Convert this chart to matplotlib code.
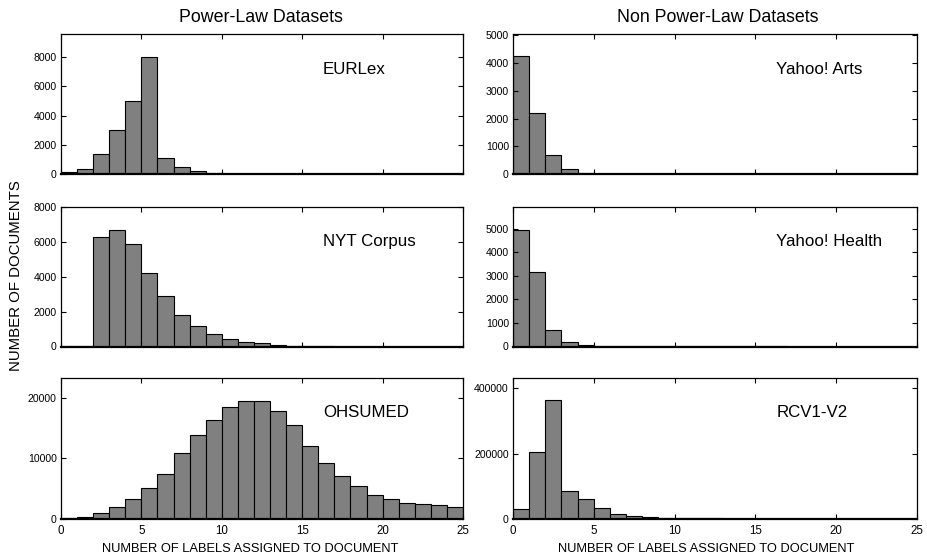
import matplotlib
matplotlib.use("Agg")
import matplotlib.pyplot as plt
import numpy as np

plt.rcParams['font.family'] = ['Liberation Sans', 'DejaVu Sans']

bins = list(range(25))  # left edges of unit-width bins 0..24

eurlex = [110, 350, 1400, 3000, 5000, 8000, 1100, 450, 200, 50,
          15, 5, 0, 0, 0, 0, 0, 0, 0, 0, 0, 0, 0, 0, 0]
nyt = [30, 30, 6300, 6700, 5900, 4230, 2870, 1790, 1200, 705,
       430, 250, 180, 60, 50, 30, 10, 0, 0, 0, 0, 0, 0, 0, 0]
ohsumed = [100, 250, 930, 1970, 3290, 5040, 7450, 10800, 13900, 16300,
           18500, 19350, 19350, 17850, 15400, 12100, 9150, 7000, 5370, 3900,
           3230, 2630, 2410, 2250, 1920]
yahoo_arts = [4240, 2200, 675, 180, 36, 5, 0, 0, 0, 0,
              0, 0, 0, 0, 0, 0, 0, 0, 0, 0, 0, 0, 0, 0, 0]
yahoo_health = [4950, 3150, 710, 210, 57, 20, 15, 15, 15, 15,
                15, 15, 15, 15, 15, 15, 15, 0, 0, 0, 0, 0, 0, 0, 0]
rcv1 = [31700, 203600, 363000, 87000, 62400, 34800, 15300, 8200, 5000, 2800,
        2000, 1800, 1600, 1500, 1400, 1300, 1200, 0, 0, 0, 0, 0, 0, 0, 0]

panels = [
    ("EURLex", eurlex, 9600, [0, 2000, 4000, 6000, 8000]),
    ("NYT Corpus", nyt, 8000, [0, 2000, 4000, 6000, 8000]),
    ("OHSUMED", ohsumed, 23300, [0, 10000, 20000]),
    ("Yahoo! Arts", yahoo_arts, 5050, [0, 1000, 2000, 3000, 4000, 5000]),
    ("Yahoo! Health", yahoo_health, 5920, [0, 1000, 2000, 3000, 4000, 5000]),
    ("RCV1-V2", rcv1, 433000, [0, 200000, 400000]),
]

xticks = [0, 5, 10, 15, 20, 25]
col_title = ["Power-Law Datasets", "Non Power-Law Datasets"]
xlabel = "NUMBER OF LABELS ASSIGNED TO DOCUMENT"
ylabel = "NUMBER OF DOCUMENTS"

W, H = 927, 558
fig = plt.figure(figsize=(W / 100, H / 100), dpi=100)

col_x = [(61, 463), (513, 917)]
row_y = [(34, 174), (207, 346.5), (377.5, 519)]
xlabel_cx = [250, 706]

for i, (name, vals, ymax, yt) in enumerate(panels):
    c = i // 3
    r = i % 3
    x0, x1 = col_x[c]
    y0, y1 = row_y[r]
    ax = fig.add_axes([x0 / W, 1 - y1 / H, (x1 - x0) / W, (y1 - y0) / H])
    ax.bar(bins, vals, width=1.0, align='edge', color='#808080',
           edgecolor='black', linewidth=0.8)
    ax.set_xlim(0, 25)
    ax.set_ylim(0, ymax)
    ax.set_xticks(xticks)
    ax.set_yticks(yt)
    ax.set_yticklabels([str(v) for v in yt])
    ax.tick_params(direction='in', top=True, right=True, length=3.5,
                   width=0.8)
    ax.tick_params(axis='y', pad=3, labelsize=7.6)
    ax.tick_params(axis='x', pad=4, labelsize=8.3)
    if r != 2:
        ax.set_xticklabels([])
    else:
        ax.set_xticklabels([str(v) for v in xticks])
        fig.text(xlabel_cx[c] / W, 1 - 549 / H, xlabel, fontsize=9.3,
                 ha='center', va='center')
    for s in ax.spines.values():
        s.set_linewidth(0.9)
    ax.spines['bottom'].set_linewidth(1.6)
    ax.text(0.652, 0.75, name, transform=ax.transAxes, fontsize=12.2,
            ha='left', va='center')

fig.text(260.5 / W, 1 - 17 / H, col_title[0], fontsize=12.8, ha='center', va='center')
fig.text(718 / W, 1 - 17 / H, col_title[1], fontsize=12.8, ha='center', va='center')
fig.text(16 / W, 1 - 276 / H, ylabel, fontsize=10.8, rotation=90,
         ha='center', va='center')

fig.savefig("out.png", dpi=100)
